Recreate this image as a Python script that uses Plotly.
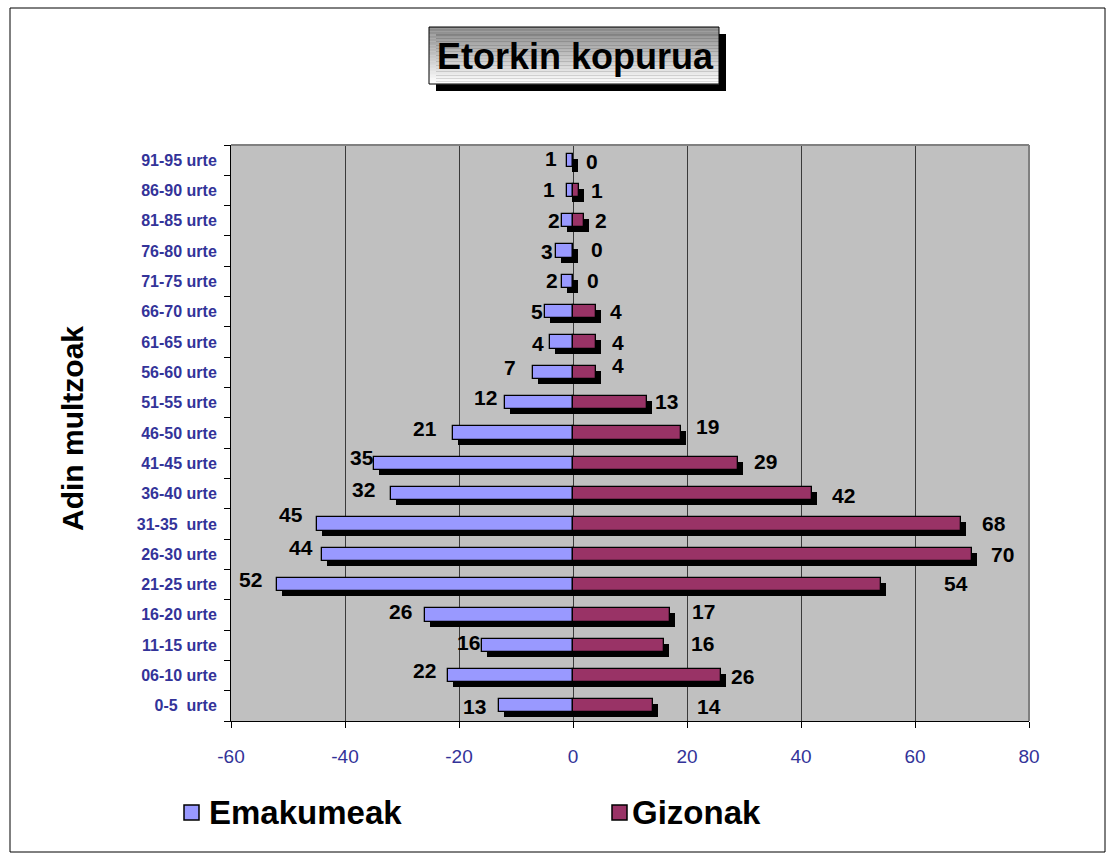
import plotly.graph_objects as go

# ---------------- data ----------------
categories = ["0-5\u00a0 urte", "06-10 urte", "11-15 urte", "16-20 urte", "21-25 urte",
              "26-30 urte", "31-35\u00a0 urte", "36-40 urte", "41-45 urte", "46-50 urte",
              "51-55 urte", "56-60 urte", "61-65 urte", "66-70 urte", "71-75 urte",
              "76-80 urte", "81-85 urte", "86-90 urte", "91-95 urte"]
emakumeak = [13, 22, 16, 26, 52, 44, 45, 32, 35, 21, 12, 7, 4, 5, 2, 3, 2, 1, 1]
gizonak = [14, 26, 16, 17, 54, 70, 68, 42, 29, 19, 13, 4, 4, 4, 0, 0, 2, 1, 0]
x_ticks = [-60, -40, -20, 0, 20, 40, 60, 80]

title_text = "Etorkin kopurua"
y_title = "Adin multzoak"
series_names = ["Emakumeak", "Gizonak"]

# label nudges in pixels (dx right, dy down), bottom to top
w_dx = [-24, -23, -13, -24, -26, -21, -26, -27, -12, -28, -19, -23, -12, -8, -10, -9, -8, -18, -16]
w_dy = [1, -5, -3, -3, -5, -7, -9, -4, -6, -5, -5, -5, 1, 0, -1, 0, 0, -1, -2]
m_dx = [56, 21, 38, 34, 75, 30, 33, 31, 27, 26, 19, 22, 22, 20, 20, 24, 17, 18, 19]
m_dy = [1, 1, -2, -3, -1, 0, 0, 2, -2, -7, -1, -7, 0, 0, -1, -2, 0, 0, 1]

# ---------------- layout geometry ----------------
W, H = 1115, 861
PL, PR, PT, PB = 231, 1029, 145, 721  # plot area in px
XMIN, XMAX = -60, 80
FONT = "Arial, 'Liberation Sans', sans-serif"
C_W = "#9999FF"
C_M = "#993366"

px_per_unit = (PR - PL) / (XMAX - XMIN)
px_per_cat = (PB - PT) / len(categories)
bar_w = 13.3 / px_per_cat
sh_x = 5 / px_per_unit
sh_y = 5 / px_per_cat


def pxx(px):
    return (px - PL) / (PR - PL)


def pxy(py):
    return (PB - py) / (PB - PT)


fig = go.Figure()

# shadows
fig.add_trace(go.Bar(y=categories, x=[-v for v in emakumeak], base=sh_x, orientation="h",
                     width=bar_w, offset=-bar_w / 2 - sh_y, marker=dict(color="black", line=dict(width=0)),
                     showlegend=False, hoverinfo="skip"))
fig.add_trace(go.Bar(y=categories, x=gizonak, base=sh_x, orientation="h",
                     width=bar_w, offset=-bar_w / 2 - sh_y, marker=dict(color="black", line=dict(width=0)),
                     showlegend=False, hoverinfo="skip"))
# bars
fig.add_trace(go.Bar(y=categories, x=[-v for v in emakumeak], orientation="h", name=series_names[0],
                     width=bar_w, offset=-bar_w / 2,
                     marker=dict(color=C_W, line=dict(color="black", width=1.3)), showlegend=False))
fig.add_trace(go.Bar(y=categories, x=gizonak, orientation="h", name=series_names[1],
                     width=bar_w, offset=-bar_w / 2,
                     marker=dict(color=C_M, line=dict(color="black", width=1.3)), showlegend=False))

annotations = []
for i, c in enumerate(categories):
    annotations.append(dict(x=-emakumeak[i], y=c, xref="x", yref="y", text=str(emakumeak[i]),
                            showarrow=False, xanchor="center", yanchor="middle",
                            xshift=w_dx[i], yshift=-w_dy[i],
                            font=dict(family=FONT, size=21, color="black", weight="bold")))
    annotations.append(dict(x=gizonak[i], y=c, xref="x", yref="y", text=str(gizonak[i]),
                            showarrow=False, xanchor="center", yanchor="middle",
                            xshift=m_dx[i], yshift=-m_dy[i],
                            font=dict(family=FONT, size=21, color="black", weight="bold")))

# y title
annotations.append(dict(x=pxx(72), y=pxy(429), xref="paper", yref="paper", text="<b>%s</b>" % y_title,
                        textangle=-90, showarrow=False, xanchor="center", yanchor="middle",
                        font=dict(family=FONT, size=30, color="black")))
# title
annotations.append(dict(x=pxx(575), y=pxy(56), xref="paper", yref="paper", text="<b>%s</b>" % title_text,
                        showarrow=False, xanchor="center", yanchor="middle",
                        font=dict(family=FONT, size=36, color="black")))
# legend texts
annotations.append(dict(x=pxx(207), y=pxy(812), xref="paper", yref="paper", text="<b>%s</b>" % series_names[0],
                        showarrow=False, xanchor="left", yanchor="middle",
                        font=dict(family=FONT, size=33, color="black")))
annotations.append(dict(x=pxx(630), y=pxy(812), xref="paper", yref="paper", text="<b>%s</b>" % series_names[1],
                        showarrow=False, xanchor="left", yanchor="middle",
                        font=dict(family=FONT, size=33, color="black")))

shapes = []
# outer border
shapes.append(dict(type="rect", xref="paper", yref="paper", x0=pxx(10), x1=pxx(1105), y0=pxy(8), y1=pxy(852),
                   line=dict(color="black", width=1), layer="below"))
# plot area top / right border
shapes.append(dict(type="line", xref="paper", yref="paper", x0=0, x1=1, y0=1, y1=1,
                   line=dict(color="#808080", width=2)))
shapes.append(dict(type="line", xref="paper", yref="paper", x0=1, x1=1, y0=0, y1=1,
                   line=dict(color="#808080", width=2)))
# title box shadow
bx0, bx1, by0, by1 = 429, 719, 27, 84
shapes.append(dict(type="rect", xref="paper", yref="paper", x0=pxx(bx0 + 7), x1=pxx(bx1 + 7),
                   y0=pxy(by0 + 7), y1=pxy(by1 + 7), fillcolor="black", line=dict(width=0)))
# gradient bands
nb = 40
for k in range(nb):
    t = k / (nb - 1)
    g = int(round(135 + (255 - 135) * t))
    ya = by0 + (by1 - by0) * k / nb
    yb = by0 + (by1 - by0) * (k + 1) / nb
    shapes.append(dict(type="rect", xref="paper", yref="paper", x0=pxx(bx0), x1=pxx(bx1),
                       y0=pxy(ya), y1=pxy(yb + 0.3), fillcolor="rgb(%d,%d,%d)" % (g, g, g), line=dict(width=0)))
shapes.append(dict(type="rect", xref="paper", yref="paper", x0=pxx(bx0), x1=pxx(bx1),
                   y0=pxy(by0), y1=pxy(by1), line=dict(color="black", width=1)))
# legend squares
for x0, col in [(184, C_W), (612, C_M)]:
    shapes.append(dict(type="rect", xref="paper", yref="paper", x0=pxx(x0), x1=pxx(x0 + 15),
                       y0=pxy(805), y1=pxy(820), fillcolor=col, line=dict(color="black", width=1.5)))

fig.update_layout(
    width=W, height=H,
    margin=dict(l=PL, r=W - PR, t=PT, b=H - PB, pad=0),
    paper_bgcolor="white", plot_bgcolor="#C0C0C0",
    barmode="overlay", bargap=0,
    showlegend=False,
    annotations=annotations, shapes=shapes,
    xaxis=dict(range=[XMIN, XMAX], tickvals=x_ticks, ticktext=[str(v) for v in x_ticks],
               showgrid=True, gridcolor="#3a3a3a", gridwidth=1, zeroline=False,
               showline=True, linecolor="black", linewidth=1,
               ticks="outside", ticklen=6, tickcolor="black", ticklabelstandoff=12,
               tickfont=dict(family=FONT, size=19, color="#333399"), fixedrange=True),
    yaxis=dict(categoryorder="array", categoryarray=categories, range=[-0.5, len(categories) - 0.5],
               showgrid=False, zeroline=False, showline=True, linecolor="black", linewidth=1,
               ticks="outside", tickson="boundaries", ticklen=6, tickcolor="black", ticklabelstandoff=10,
               tickfont=dict(family=FONT, size=16, color="#333399", weight="bold"), fixedrange=True),
)

fig.write_html("out.html", config={"displayModeBar": False},
               post_script="document.body.style.margin='0px';document.body.style.overflow='hidden';")
